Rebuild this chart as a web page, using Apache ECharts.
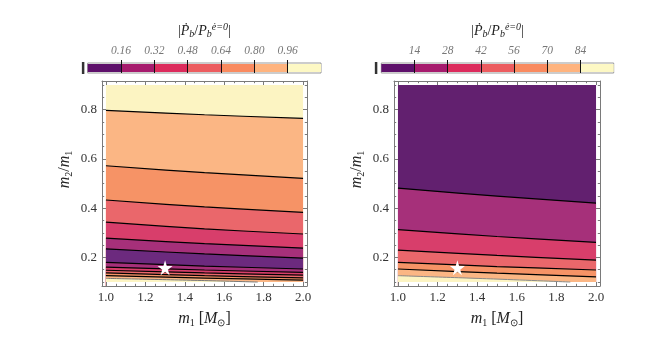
<!DOCTYPE html>
<html><head><meta charset="utf-8">
<script src="https://cdn.jsdelivr.net/npm/echarts@6/dist/echarts.min.js"></script>
<style>html,body{margin:0;padding:0;background:#fff}#c{width:654px;height:348px}</style>
</head><body><div id="c"></div>
<script>
// ---------------- data ----------------
const xTicks = [1.0, 1.2, 1.4, 1.6, 1.8, 2.0];
const yTicks = [0.2, 0.4, 0.6, 0.8];
const xRange = [0.98, 2.02];
const yRange = [0.084, 0.916];

const cbLeftTicks = [0.16, 0.32, 0.48, 0.64, 0.80, 0.96];
const cbLeftBands = [0.16, 0.16, 0.16, 0.16, 0.16, 0.16, 0.16];
const cbRightTicks = [14, 28, 42, 56, 70, 84];
const cbRightBands = [14, 14, 14, 14, 14, 14, 14];

// region edges
const regionTop = [[1.0, 0.9], [2.0, 0.9]];
const regionBottom = [[1.0, 0.1], [2.0, 0.1]];

// left panel contours (|Pdot/Pdot_e=0| levels), top to bottom
const L_096a = [[1.0, 0.797], [1.5, 0.779], [2.0, 0.764]];
const L_080a = [[1.0, 0.572], [1.5, 0.544], [2.0, 0.521]];
const L_064a = [[1.0, 0.433], [1.5, 0.405], [2.0, 0.383]];
const L_048a = [[1.0, 0.343], [1.5, 0.316], [2.0, 0.295]];
const L_032a = [[1.0, 0.278], [1.5, 0.256], [2.0, 0.238]];
const L_016a = [[1.0, 0.235], [1.5, 0.214], [2.0, 0.197]];
const L_016b = [[1.0, 0.180], [1.5, 0.165], [2.0, 0.153]];
const L_032b = [[1.0, 0.161], [1.5, 0.149], [2.0, 0.139]];
const L_048b = [[1.0, 0.148], [1.5, 0.137], [2.0, 0.128]];
const L_064b = [[1.0, 0.137], [1.5, 0.126], [2.0, 0.117]];
const L_080b = [[1.0, 0.126], [1.5, 0.116], [2.0, 0.108]];
const L_096b = [[1.0, 0.115], [1.5, 0.106], [1.77, 0.100]];

// right panel contours, top to bottom
const R_14 = [[1.0, 0.481], [1.5, 0.449], [2.0, 0.420]];
const R_28 = [[1.0, 0.313], [1.5, 0.285], [2.0, 0.261]];
const R_42 = [[1.0, 0.230], [1.5, 0.208], [2.0, 0.189]];
const R_56 = [[1.0, 0.180], [1.5, 0.163], [2.0, 0.149]];
const R_70 = [[1.0, 0.153], [1.5, 0.136], [2.0, 0.121]];
const R_84 = [[1.0, 0.126], [1.5, 0.112], [1.87, 0.100]];

const starPoint = [[1.3, 0.158]];

// ---------------- style ----------------
const SERIF = 'Liberation Serif';
const cbColors = ['#5e106b', '#a61b6d', '#dc2b5c', '#ec5c5f', '#f98a5f', '#feb37e', '#fdf8c4'];
const fill = {
  purple: '#6c2a7e', dpurple: '#62206f', magenta: '#a6307a', crimson: '#d83e6b', salmon: '#ea676b',
  orange: '#f69366', lorange: '#fbb684', yellow: '#fcf4c2'
};
const frameColor = '#7a7a7a';

function minorsOf(majors, lo, hi, step) {
  const out = [];
  for (let v = Math.ceil(lo / step) * step; v <= hi + 1e-9; v += step) {
    const r = Math.round(v * 1000) / 1000;
    if (!majors.some(m => Math.abs(m - r) < 1e-6)) out.push(r);
  }
  return out;
}
const xMinor = minorsOf(xTicks, xRange[0], xRange[1], 0.05);
const yMinor = minorsOf(yTicks, yRange[0], yRange[1], 0.05);

const rich = {
  i: { fontFamily: SERIF, fontStyle: 'italic', fontSize: 16, color: '#222' },
  r: { fontFamily: SERIF, fontSize: 16, color: '#222' },
  s: { fontFamily: SERIF, fontSize: 10, color: '#222', padding: [8, 0, 0, 0] },
  ti: { fontFamily: SERIF, fontStyle: 'italic', fontSize: 14, color: '#222' },
  tr: { fontFamily: SERIF, fontSize: 14, color: '#222' },
  ts: { fontFamily: SERIF, fontStyle: 'italic', fontSize: 10, color: '#222', padding: [7, 0, 0, 0] },
  tp: { fontFamily: SERIF, fontStyle: 'italic', fontSize: 10, color: '#222', padding: [0, 0, 8, 0] }
};

function frameAxes(grid, dim, majors, minors, range, withName) {
  const pos = dim === 'x' ? ['bottom', 'top'] : ['left', 'right'];
  const axes = [];
  pos.forEach((p, k) => {
    axes.push({
      gridIndex: grid, type: 'value', position: p, min: range[0], max: range[1],
      axisLine: { show: true, lineStyle: { color: frameColor, width: 1 } },
      axisTick: { show: true, inside: true, length: 4, customValues: majors, lineStyle: { color: frameColor } },
      axisLabel: k === 0 ? {
        show: true, customValues: majors, margin: 5,
        formatter: v => v.toFixed(1), fontFamily: SERIF, fontSize: 13, color: '#333'
      } : { show: false },
      splitLine: { show: false },
      name: (k === 0 && withName) ? (dim === 'x'
        ? '{i|m}{s|1}{r| [}{i|M}{s|⊙}{r|]}'
        : '{i|m}{s|2}{r|/}{i|m}{s|1}') : '',
      nameLocation: 'middle',
      nameGap: dim === 'x' ? 24 : 28,
      nameRotate: dim === 'x' ? 0 : 90,
      nameTextStyle: { rich: rich, padding: dim === 'x' ? 0 : [0, 0, 0, 28] },
      z: 6
    });
    axes.push({
      gridIndex: grid, type: 'value', position: p, min: range[0], max: range[1],
      axisLine: { show: false },
      axisTick: { show: true, inside: true, length: 2.2, customValues: minors, lineStyle: { color: frameColor } },
      axisLabel: { show: false },
      splitLine: { show: false },
      z: 6
    });
  });
  return axes;
}

const xAxes = [].concat(
  frameAxes(0, 'x', xTicks, xMinor, xRange, true),
  frameAxes(1, 'x', xTicks, xMinor, xRange, true)
);
const yAxes = [].concat(
  frameAxes(0, 'y', yTicks, yMinor, yRange, true),
  frameAxes(1, 'y', yTicks, yMinor, yRange, true)
);

const cbTitle = '{tr||}{ti|Ṗ}{ts|b}{tr|/}{ti|P}{ts|b}{tp|ė=0}{tr||}';
function cbAxis(grid, max, ticks, fmt) {
  return {
    gridIndex: grid, type: 'value', position: 'top', min: 0, max: max, offset: 3,
    axisLine: { show: false },
    axisTick: { show: true, inside: true, length: 13, customValues: ticks, lineStyle: { color: '#111', width: 1 } },
    axisLabel: { show: true, customValues: ticks, formatter: fmt, margin: 3, fontFamily: SERIF, fontStyle: 'italic', fontSize: 11.5, color: '#777' },
    splitLine: { show: false },
    name: cbTitle, nameLocation: 'middle', nameGap: 20,
    nameTextStyle: { rich: rich },
    z: 10
  };
}
xAxes.push(cbAxis(2, 1.12, cbLeftTicks, v => v.toFixed(2)));
xAxes.push(cbAxis(3, 98, cbRightTicks, v => String(v)));
yAxes.push({ gridIndex: 2, type: 'category', data: ['cb'], show: false });
yAxes.push({ gridIndex: 3, type: 'category', data: ['cb'], show: false });

const series = [];
function band(pi, data, color, lineColor, lineWidth) {
  series.push({
    type: 'line', xAxisIndex: pi * 4, yAxisIndex: pi * 4, data: data,
    smooth: 0.35, symbol: 'none', silent: true, animation: false,
    lineStyle: { color: lineColor || '#000', width: lineWidth === undefined ? 1.2 : lineWidth },
    areaStyle: { color: color, opacity: 1, origin: 'start' }, z: 2
  });
}
// left panel
band(0, regionTop, fill.yellow, '#000', 0);
band(0, L_096a, fill.lorange);
band(0, L_080a, fill.orange);
band(0, L_064a, fill.salmon);
band(0, L_048a, fill.crimson);
band(0, L_032a, fill.magenta);
band(0, L_016a, fill.purple);
band(0, L_016b, fill.magenta);
band(0, L_032b, fill.crimson);
band(0, L_048b, fill.salmon);
band(0, L_064b, fill.orange);
band(0, L_080b, fill.lorange);
band(0, L_096b, fill.yellow, '#777', 1);
band(0, regionBottom, '#ffffff', '#fff', 0);
// right panel
band(1, regionTop, fill.dpurple, '#000', 0);
band(1, R_14, fill.magenta);
band(1, R_28, fill.crimson);
band(1, R_42, fill.salmon);
band(1, R_56, fill.orange);
band(1, R_70, fill.lorange);
band(1, R_84, fill.yellow, '#888', 1);
band(1, regionBottom, '#ffffff', '#fff', 0);

const starPath = 'path://M50,0 L61,35 L98,35 L68,57 L79,91 L50,70 L21,91 L32,57 L2,35 L39,35 Z';
[0, 1].forEach(pi => series.push({
  type: 'scatter', xAxisIndex: pi * 4, yAxisIndex: pi * 4, data: starPoint,
  symbol: starPath, symbolSize: 15, itemStyle: { color: '#ffffff', opacity: 1 }, z: 5, silent: true, animation: false
}));

// colorbars
function colorbar(ax, bands, mark) {
  bands.forEach((w, k) => series.push({
    type: 'bar', xAxisIndex: ax, yAxisIndex: ax, stack: 'cb' + ax, data: [w],
    barWidth: 8, itemStyle: { color: cbColors[k] }, silent: true, animation: false, z: 2
  }));
  series.push({
    type: 'scatter', xAxisIndex: ax, yAxisIndex: ax, data: [[mark, 'cb']], clip: false,
    symbol: 'rect', symbolSize: [2.5, 12], itemStyle: { color: '#000' }, silent: true, animation: false, z: 3
  });
}
colorbar(8, cbLeftBands, -0.022);
colorbar(9, cbRightBands, -2.2);

const chart = echarts.init(document.getElementById('c'), null, { renderer: 'canvas' });
chart.setOption({
  backgroundColor: '#fff',
  animation: false,
  grid: [
    { left: 102, top: 81, width: 205, height: 205, containLabel: false, outerBoundsMode: 'none' },
    { left: 394, top: 81, width: 206, height: 205, containLabel: false, outerBoundsMode: 'none' },
    { left: 87.7, top: 63, width: 233.3, height: 10, show: true, borderColor: '#999', borderWidth: 1, backgroundColor: 'transparent', outerBoundsMode: 'none' },
    { left: 381.3, top: 63, width: 232.4, height: 10, show: true, borderColor: '#999', borderWidth: 1, backgroundColor: 'transparent', outerBoundsMode: 'none' }
  ],
  xAxis: xAxes,
  yAxis: yAxes,
  series: series
});
</script></body></html>
